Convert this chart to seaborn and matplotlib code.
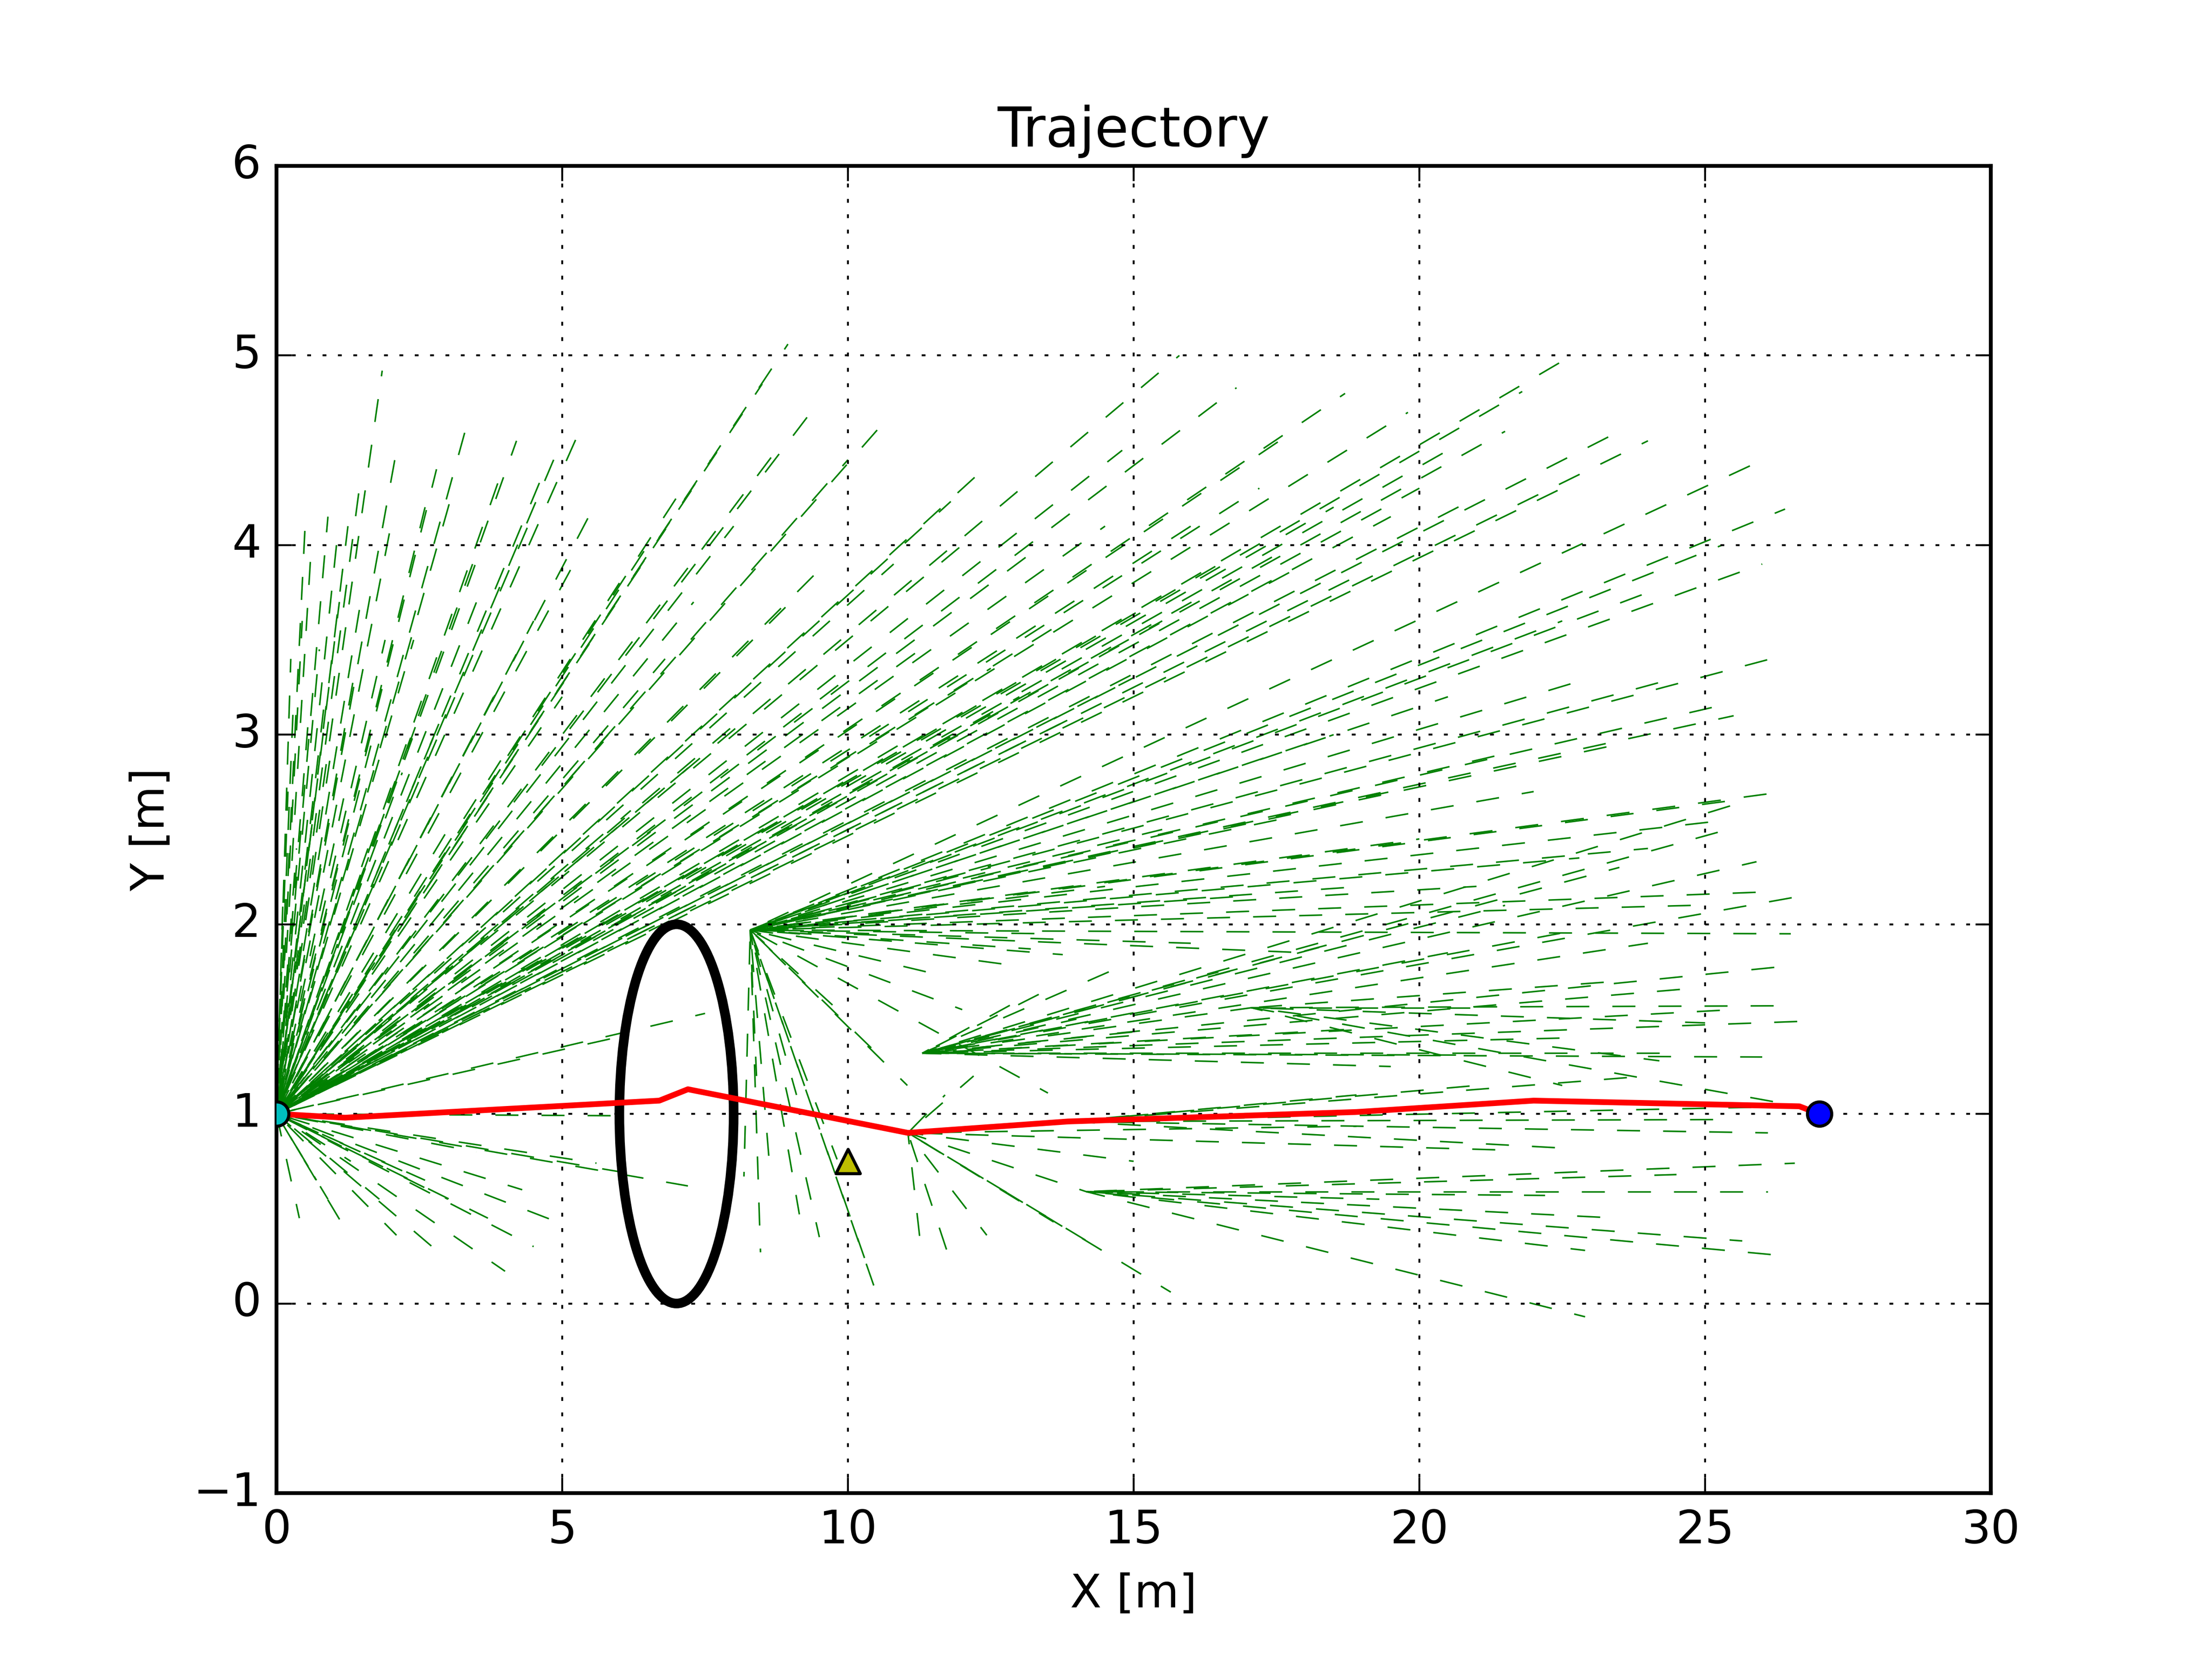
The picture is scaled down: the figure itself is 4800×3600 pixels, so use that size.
import numpy as np
import pandas as pd
import matplotlib
matplotlib.use("Agg")
import matplotlib.pyplot as plt
from matplotlib.patches import Ellipse
import seaborn as sns

# tree hubs and the far ends of the edges leaving them
root_x, root_y = 0.0, 1.0
root_end_x = [0.12, 0.2, 0.3, 0.35, 0.45, 0.55, 0.6, 0.75, 0.9, 0.95, 1.1, 1.25, 1.35, 1.5, 1.85, 1.7, 2.0,
              2.1, 2.4, 2.6, 2.9, 3.1, 3.3, 3.5, 3.9, 4.0, 4.2, 4.5, 4.7, 4.85, 5.3, 5.55, 5.0, 6.0, 6.2,
              7.0, 7.6, 6.8, 7.5, 8.5, 8.75, 8.95, 9.3, 9.0, 10.0, 10.55, 10.0, 11.8, 12.3, 11.5, 12.5, 13.4, 13.0,
              14.5, 15.8, 16.8, 15.5, 17.2, 18.7, 18.0, 19.5, 20.5, 21.8, 22.5, 21.0, 23.5, 19.0, 16.5, 14.0,
              17.5, 20.0, 22.5, 24.0,
              0.25, 0.5, 0.65, 0.85, 1.05, 1.2, 1.45, 1.6, 1.9, 2.2, 2.5, 2.8, 3.0, 3.6, 3.8, 4.4, 5.2, 5.8,
              6.5, 6.6, 7.3, 8.0, 8.2, 9.6, 10.8, 11.2, 12.0, 13.8, 14.8, 15.0, 16.0, 17.8, 18.5, 19.8, 21.5,
              0.4, 0.7, 1.15, 1.3, 2.1, 2.8, 2.2, 3.0, 4.0, 4.3, 5.0, 3.5, 5.6, 7.2, 6.1, 6.2, 7.5, 6.2,
              1.8, 2.6, 3.7, 4.5, 0.9]
root_end_y = [2.2, 2.7, 3.2, 2.4, 3.6, 3.05, 3.95, 3.45, 4.15, 2.9, 3.7, 4.1, 3.3, 3.75, 4.92, 3.0, 4.1,
              4.5, 3.5, 4.2, 3.1, 4.3, 4.6, 3.7, 4.35, 2.9, 4.55, 3.6, 4.4, 4.45, 4.6, 4.2, 3.2, 3.8, 2.6,
              4.25, 4.45, 3.4, 2.9, 4.85, 4.5, 5.06, 4.68, 3.7, 4.45, 4.62, 3.3, 4.23, 4.38, 3.5, 3.35, 4.0, 3.2,
              4.1, 5.0, 4.83, 3.6, 4.3, 4.8, 3.9, 4.15, 4.5, 4.81, 4.97, 4.25, 4.6, 3.85, 3.9, 3.1,
              3.95, 4.3, 4.3, 4.55,
              3.4, 4.1, 2.6, 3.2, 4.0, 2.7, 4.3, 2.4, 3.5, 2.8, 3.1, 4.4, 2.5, 4.0, 3.2, 4.1, 3.9, 3.0,
              4.0, 2.5, 3.7, 4.1, 3.1, 3.9, 3.9, 3.0, 4.0, 3.6, 4.5, 3.3, 4.1, 4.6, 4.2, 4.7, 4.6,
              0.45, 0.65, 0.42, 0.75, 0.36, 0.28, 0.7, 0.55, 0.17, 0.6, 0.42, 0.8, 0.74, 0.62, 0.69, 0.99, 1.53, 1.42,
              0.55, 0.65, 0.45, 0.3, 0.55]

b_x, b_y = 8.29, 1.97
b_end_x = [25.8, 26.4, 25.3, 24.0, 22.5, 26.4, 25.5, 25.5, 23.0, 20.5, 18.5, 25.4, 25.4, 22.0, 20.0, 17.5,
           15.5, 26.0, 24.8, 21.0, 16.0, 13.55, 18.0, 13.2, 11.5, 12.97, 13.76, 13.5, 12.0,
           26.0, 24.5, 23.5, 21.5, 19.5, 24.0, 22.8, 19.0, 17.0, 14.5, 12.5, 26.4, 26.5,
           8.47, 9.5, 10.29, 10.55, 8.18, 9.15, 8.62, 9.81, 11.04, 10.47, 8.4, 9.1, 10.0]
b_end_y = [4.42, 4.19, 4.0, 3.75, 3.6, 3.42, 3.17, 3.1, 3.3, 3.2, 3.0, 2.65, 2.55, 2.7, 2.45, 2.55,
           2.5, 2.17, 2.1, 2.2, 1.9, 1.95, 1.85, 1.87, 1.74, 1.78, 1.84, 1.11, 1.55,
           3.9, 3.3, 2.95, 2.9, 2.7, 2.4, 2.35, 2.2, 2.15, 2.2, 2.3, 2.7, 1.95,
           0.27, 0.35, 0.24, 0.01, 0.67, 0.47, 0.76, 0.76, 1.15, 1.33, 1.2, 1.1, 1.5]

e_x, e_y = 11.3, 1.32
e_end_x = [26.85, 26.45, 26.7, 25.9, 25.5, 25.4, 24.7, 22.6, 20.5, 17.06, 13.6, 14.8, 24.5, 21.0, 19.0, 15.5, 25.5,
           23.5, 21.5, 18.5, 16.5, 26.0, 22.5, 19.5, 24.0, 14.0, 13.0]
e_end_y = [1.49, 1.78, 2.15, 2.33, 2.63, 2.5, 1.66, 1.96, 1.85, 1.56, 1.67, 1.78, 1.32, 1.31, 1.45, 1.45, 1.55,
           2.3, 2.1, 1.9, 1.75, 1.3, 1.4, 1.25, 1.9, 1.5, 1.6]

f_x, f_y = 17.06, 1.56
f_end_x = [21.0, 26.2, 25.0, 26.65, 24.2, 23.5, 22.5]
f_end_y = [1.56, 1.57, 1.48, 1.04, 1.28, 1.7, 1.15]

g_x, g_y = 13.85, 0.96
g_end_x = [26.65, 26.1, 25.2, 22.5, 24.0, 21.0, 18.9]
g_end_y = [1.04, 0.9, 0.97, 0.82, 1.2, 1.15, 1.1]

c_x, c_y = 11.05, 0.90
c_end_x = [15.65, 14.29, 12.43, 11.73, 11.26, 13.6, 14.17, 12.2, 11.7, 18.9, 21.4, 15.0]
c_end_y = [0.06, 0.31, 0.36, 0.28, 0.34, 0.43, 0.59, 1.2, 1.1, 0.935, 0.81, 0.75]

d_x, d_y = 14.17, 0.59
d_end_x = [26.45, 25.65, 22.9, 26.57, 26.1, 24.5, 22.9, 22.2, 19.3, 23.5]
d_end_y = [0.25, 0.33, 0.28, 0.74, 0.59, 0.68, -0.07, 0.57, 0.55, 0.45]

# final path and markers
path_x = [0.0, 1.2, 6.7, 7.2, 11.05, 13.85, 18.9, 22.0, 26.65, 27.0]
path_y = [1.0, 0.98, 1.07, 1.13, 0.90, 0.96, 1.01, 1.07, 1.04, 1.0]
start = (0.0, 1.0)
goal = (27.0, 1.0)
waypoint = (10.0, 0.75)
obstacle_center = (7.0, 1.0)
obstacle_radius = 1.0

hubs = [((root_x, root_y), root_end_x, root_end_y),
        ((b_x, b_y), b_end_x, b_end_y),
        ((e_x, e_y), e_end_x, e_end_y),
        ((f_x, f_y), f_end_x, f_end_y),
        ((g_x, g_y), g_end_x, g_end_y),
        ((c_x, c_y), c_end_x, c_end_y),
        ((d_x, d_y), d_end_x, d_end_y)]

rows = []
edge = 0
for (hx, hy), ex, ey in hubs:
    for x1, y1 in zip(ex, ey):
        rows.append((edge, hx, hy))
        rows.append((edge, x1, y1))
        edge += 1
tree = pd.DataFrame(rows, columns=["edge", "x", "y"])

plt.style.use("classic")
fig, ax = plt.subplots(figsize=(8, 6), dpi=600, facecolor="white")

n_before = len(ax.lines)
sns.lineplot(data=tree, x="x", y="y", units="edge", estimator=None, sort=False,
             color="green", lw=0.4, linestyle="--", ax=ax, zorder=2)
# stagger the dash phase so the edges don't line up into rings
for i, ln in enumerate(ax.lines[n_before:]):
    ln.set_linestyle(((i * 5) % 12, (6, 6)))

ax.add_patch(Ellipse(obstacle_center, 2 * obstacle_radius, 2 * obstacle_radius,
                     fill=False, edgecolor="black", lw=2.5, zorder=3))

sns.lineplot(x=path_x, y=path_y, sort=False, color="red", lw=1.5, ax=ax, zorder=4)

sns.scatterplot(x=[start[0]], y=[start[1]], color="c", marker="o", s=40,
                edgecolor="black", linewidth=0.8, ax=ax, zorder=5)
sns.scatterplot(x=[goal[0]], y=[goal[1]], color="b", marker="o", s=40,
                edgecolor="black", linewidth=0.8, ax=ax, zorder=5)
sns.scatterplot(x=[waypoint[0]], y=[waypoint[1]], color="y", marker="^", s=40,
                edgecolor="black", linewidth=0.8, ax=ax, zorder=5)

ax.set_xlim(0, 30)
ax.set_ylim(-1, 6)
ax.set_xticks(np.arange(0, 31, 5))
ax.set_yticks(np.arange(-1, 7, 1))
ax.grid(True, color="black", linestyle=":", lw=0.5)
ax.set_title("Trajectory")
ax.set_xlabel("X [m]")
ax.set_ylabel("Y [m]")

fig.savefig("out.png", dpi=600, facecolor="white")
